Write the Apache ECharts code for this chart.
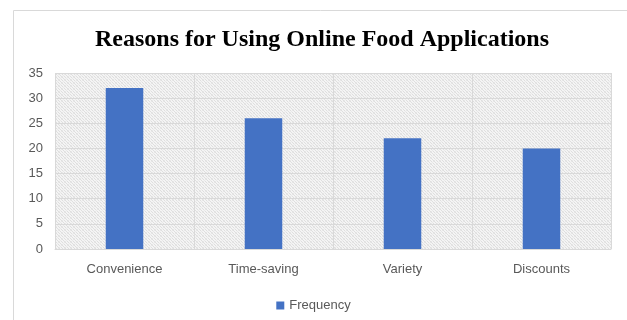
<!DOCTYPE html>
<html>
<head>
<meta charset="utf-8">
<script src="https://cdn.jsdelivr.net/npm/echarts@6/dist/echarts.min.js"></script>
<style>
  html, body { margin: 0; padding: 0; background: #fff; }
  #chart { width: 627px; height: 320px; }
</style>
</head>
<body>
<div id="chart"></div>
<script>
const categories = ['Convenience', 'Time-saving', 'Variety', 'Discounts'];
const frequency = [32, 26, 22, 20];
const seriesName = 'Frequency';
const titleText = 'Reasons for Using Online Food Applications';

// small woven hatch texture for the plot background
function makeHatch() {
  const c = document.createElement('canvas');
  c.width = 6; c.height = 6;
  const g = c.getContext('2d');
  g.fillStyle = '#f4f4f4';
  g.fillRect(0, 0, 6, 6);
  g.fillStyle = '#dedede';
  for (let i = 0; i < 6; i++) {
    g.fillRect(i, (i * 1) % 6, 1, 1);
    g.fillRect(i, (i + 3) % 6, 1, 1);
  }
  g.fillStyle = '#e8e8e8';
  for (let i = 0; i < 6; i++) {
    g.fillRect(i, (6 - i) % 6, 1, 1);
  }
  return c;
}

const chart = echarts.init(document.getElementById('chart'), null, { renderer: 'canvas' });
const axisFont = { fontFamily: 'Liberation Sans, Arial, sans-serif', fontSize: 13, color: '#595959' };

chart.setOption({
  animation: false,
  graphic: [{
    type: 'rect',
    shape: { x: 13.5, y: 10.5, width: 700, height: 400 },
    style: { fill: 'none', stroke: '#d9d9d9', lineWidth: 1 },
    silent: true
  }, {
    type: 'text',
    x: 322,
    y: 40,
    style: {
      text: titleText,
      align: 'center',
      verticalAlign: 'middle',
      fontFamily: 'Liberation Serif, Times New Roman, serif',
      fontWeight: 'bold',
      fontSize: 24,
      fill: '#000'
    },
    silent: true
  }],
  grid: {
    left: 55, right: 16, top: 73, bottom: 71,
    show: true,
    borderWidth: 0,
    backgroundColor: { image: makeHatch(), repeat: 'repeat' }
  },
  legend: {
    bottom: 3,
    left: 'center',
    icon: 'rect',
    itemWidth: 8,
    itemHeight: 8,
    itemGap: 10,
    textStyle: axisFont,
    data: [seriesName]
  },
  xAxis: {
    type: 'category',
    data: categories,
    axisLine: { show: true, lineStyle: { color: '#d9d9d9' } },
    axisTick: { show: false },
    axisLabel: Object.assign({ margin: 14 }, axisFont),
    splitLine: { show: true, interval: 0, lineStyle: { color: '#d9d9d9' } }
  },
  yAxis: {
    type: 'value',
    min: 0, max: 35, interval: 5,
    axisLine: { show: false },
    axisTick: { show: false },
    axisLabel: Object.assign({ margin: 12 }, axisFont),
    splitLine: { show: true, lineStyle: { color: '#d9d9d9' } }
  },
  series: [{
    name: seriesName,
    type: 'bar',
    data: frequency,
    barWidth: '27%',
    itemStyle: { color: '#4472c4' }
  }]
});
</script>
</body>
</html>
